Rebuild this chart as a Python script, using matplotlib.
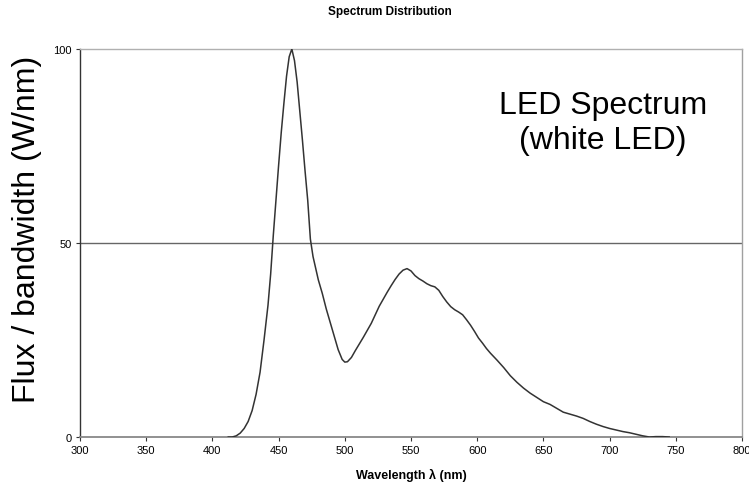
import matplotlib
matplotlib.use("Agg")
import matplotlib.pyplot as plt

# Spectrum (wavelength nm, relative flux)
wavelength = [412, 415, 418, 421, 424, 427, 430, 433, 436, 439, 442, 444, 446, 448,
              450, 452, 454, 456, 458, 460, 462, 464, 466, 468, 470, 472, 474, 476,
              478, 480, 483, 486, 489, 492, 495, 498, 500, 502, 505, 508, 511, 514,
              517, 520, 523, 526, 529, 532, 535, 538, 541, 544, 547, 550, 553, 556,
              559, 562, 565, 568, 571, 574, 577, 580, 583, 586, 589, 592, 595, 598,
              601, 604, 607, 610, 615, 620, 625, 630, 635, 640, 645, 650, 655, 660,
              665, 670, 675, 680, 685, 690, 695, 700, 705, 710, 715, 720, 725, 730,
              735, 740, 745]
flux = [0, 0, 0.3, 1.0, 2.2, 4.0, 6.8, 11, 16.7, 25, 34, 42, 52, 61,
        70, 78.5, 86, 93, 98, 100, 97, 91.5, 84, 76.5, 68.5, 61, 51, 46.5,
        43.5, 40.5, 37, 33, 29.5, 26, 22.5, 20, 19.3, 19.4, 20.5, 22.3, 24, 25.7,
        27.5, 29.3, 31.5, 33.7, 35.5, 37.3, 39, 40.6, 42, 43, 43.4, 42.8, 41.6, 40.8,
        40.2, 39.5, 39.0, 38.7, 37.8, 36.2, 34.8, 33.6, 32.8, 32.2, 31.5, 30.2, 28.8, 27.2,
        25.5, 24.2, 22.8, 21.6, 19.8, 17.9, 15.8, 14.1, 12.6, 11.3, 10.2, 9.1, 8.4, 7.4,
        6.4, 5.9, 5.4, 4.8, 4.0, 3.3, 2.7, 2.2, 1.8, 1.4, 1.1, 0.7, 0.3, 0,
        0.1, 0.1, 0]

x_ticks = [300, 350, 400, 450, 500, 550, 600, 650, 700, 750, 800]
y_ticks = [0, 50, 100]

plt.rcParams["font.family"] = ["Liberation Sans", "DejaVu Sans"]

fig = plt.figure(figsize=(7.49, 4.85), dpi=100)
ax = fig.add_axes([80 / 749, 1 - 438 / 485, 662 / 749, 388 / 485])

# Gridline at 50 and the curve
ax.axhline(50, color="#666666", lw=1.0, zorder=1)
ax.plot(wavelength, flux, color="#333333", lw=1.1, zorder=3)

ax.set_xlim(300, 800)
ax.set_ylim(0, 100)
ax.set_xticks(x_ticks)
ax.set_yticks(y_ticks)
ax.tick_params(axis="both", labelsize=8, length=3, width=0.8, color="#333333", pad=3)

# Borders
ax.spines["left"].set_color("#333333")
ax.spines["left"].set_linewidth(1.0)
ax.spines["bottom"].set_color("#888888")
ax.spines["bottom"].set_linewidth(1.3)
ax.spines["top"].set_color("#b0b0b0")
ax.spines["right"].set_color("#a0a0a0")
ax.spines["top"].set_linewidth(1.0)
ax.spines["right"].set_linewidth(1.0)

ax.set_xlabel("Wavelength λ (nm)", fontsize=9, fontweight="bold", labelpad=9)
fig.text(27 / 749, 1 - 229 / 485, "Flux / bandwidth (W/nm)", rotation=90,
         ha="center", va="center", fontsize=23)
fig.text(390 / 749, 1 - 12.5 / 485, "Spectrum Distribution", ha="center", va="center",
         fontsize=8.5, fontweight="bold")
ax.text(0.79, 0.81, "LED Spectrum\n(white LED)", transform=ax.transAxes, ha="center",
        va="center", multialignment="center", fontsize=23, zorder=4)

fig.savefig("out.png", dpi=100)
